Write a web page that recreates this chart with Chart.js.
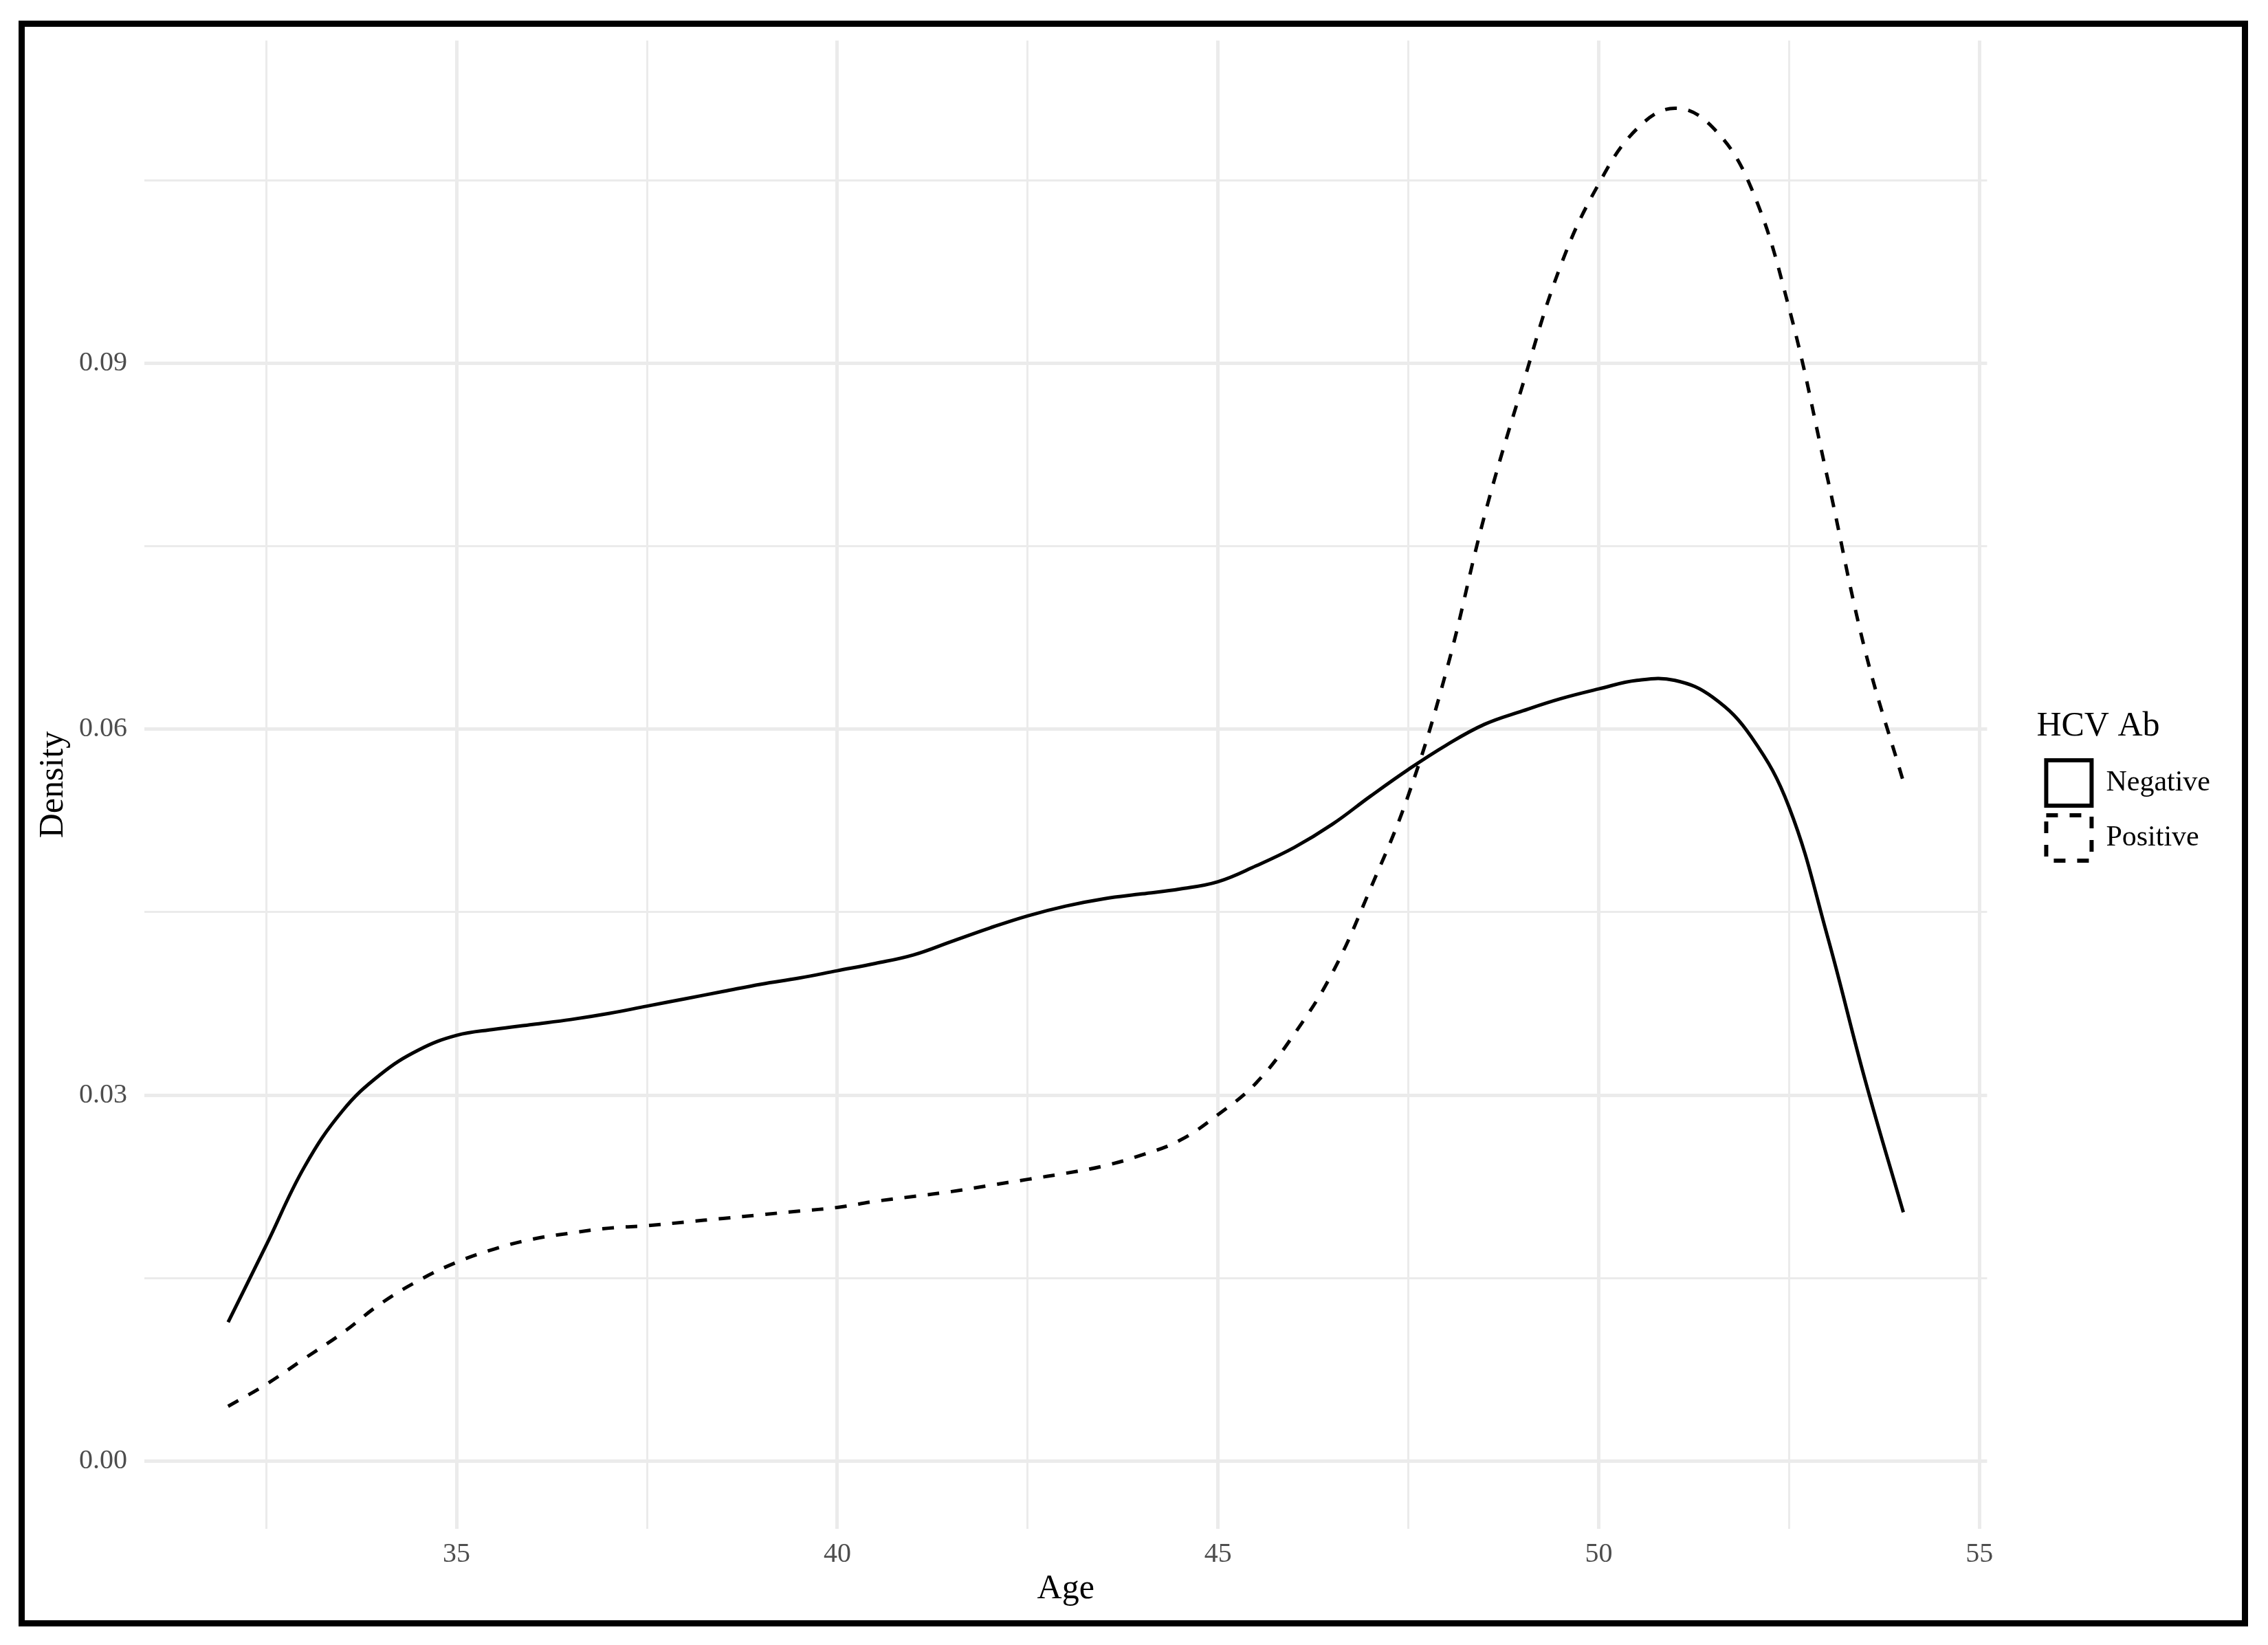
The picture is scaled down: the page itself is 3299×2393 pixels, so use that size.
<!DOCTYPE html>
<html>
<head>
<meta charset="utf-8">
<script src="https://cdn.jsdelivr.net/npm/chart.js@4"></script>
<style>
  body { margin: 0; background: #fff; }
  #frame {
    position: absolute;
    left: 27px;
    top: 30px;
    border: 9px solid #000;
    width: 3225px;
    height: 2318px;
  }
  canvas { display: block; }
</style>
</head>
<body>
<div id="frame"><canvas id="chart" width="3225" height="2318"></canvas></div>
<script>
// ages the density curves were read at
const ages = [32, 32.5, 33, 33.5, 34, 34.5, 35, 35.5, 36, 36.5, 37, 37.5, 38, 38.5, 39, 39.5,
  40, 40.5, 41, 41.5, 42, 42.5, 43, 43.5, 44, 44.5, 45, 45.5, 46, 46.5, 47, 47.5,
  48, 48.5, 49, 49.5, 50, 50.5, 51, 51.5, 52, 52.5, 53, 53.5, 54];

const negativeDensity = [0.0114, 0.0177, 0.0241, 0.0287, 0.0317, 0.0337, 0.0349, 0.0354, 0.0358, 0.0362,
  0.0367, 0.0373, 0.0379, 0.0385, 0.0391, 0.0396, 0.0402, 0.0408, 0.0415, 0.0426,
  0.0437, 0.0447, 0.0455, 0.0461, 0.0465, 0.0469, 0.0475, 0.0488, 0.0503, 0.0522,
  0.0545, 0.0567, 0.0587, 0.0604, 0.0615, 0.0625, 0.0633, 0.0640, 0.0640, 0.0626,
  0.0594, 0.0536, 0.0431, 0.0312, 0.0204];

const positiveDensity = [0.0045, 0.0063, 0.0084, 0.0105, 0.0129, 0.0148, 0.0163, 0.0174, 0.0182, 0.0187,
  0.0191, 0.0193, 0.0196, 0.0199, 0.0202, 0.0205, 0.0208, 0.0213, 0.0217, 0.0221,
  0.0226, 0.0231, 0.0236, 0.0242, 0.0251, 0.0263, 0.0284, 0.0310, 0.0350, 0.0400,
  0.0469, 0.0546, 0.0648, 0.0775, 0.0882, 0.0980, 0.1047, 0.1092, 0.1109, 0.1093,
  0.1044, 0.0945, 0.0807, 0.0664, 0.0557];

const groups = ['Negative', 'Positive'];

const xMajor = [35, 40, 45, 50, 55];
const xMinor = [32.5, 37.5, 42.5, 47.5, 52.5];
const xTickLabels = ['35', '40', '45', '50', '55'];

const yMajor = [0, 0.03, 0.06, 0.09];
const yMinor = [0.015, 0.045, 0.075, 0.105];
const yTickLabels = ['0.00', '0.03', '0.06', '0.09'];

// ggplot style 5% expansion of the data range
const allY = negativeDensity.concat(positiveDensity, [0]);
const yLow = Math.min(...allY);
const yHigh = Math.max(...allY);
const xLow = Math.min(...ages);
const xHigh = Math.max(...ages);
const yPad = (yHigh - yLow) * 0.05;
const xPad = (xHigh - xLow) * 0.05;

function toPoints(values) {
  return ages.map((age, i) => ({ x: age, y: values[i] }));
}

function gridTicks(major, minor) {
  return major.concat(minor).sort((a, b) => a - b).map(v => ({ value: v }));
}

// keep the panel where it is, whatever the edge labels want
function noEdgePadding(axis) {
  axis.paddingTop = 0;
  axis.paddingBottom = 0;
  axis.paddingLeft = 0;
  axis.paddingRight = 0;
}

const serif = 'Liberation Serif';
const gridColor = '#EBEBEB';

new Chart(document.getElementById('chart'), {
  type: 'line',
  data: {
    datasets: [
      {
        label: groups[0],
        data: toPoints(negativeDensity),
        borderColor: '#000',
        backgroundColor: '#fff',
        borderWidth: 5,
        pointRadius: 0,
        tension: 0.4
      },
      {
        label: groups[1],
        data: toPoints(positiveDensity),
        borderColor: '#000',
        backgroundColor: '#fff',
        borderWidth: 5,
        borderDash: [17, 17],
        pointRadius: 0,
        tension: 0.4
      }
    ]
  },
  options: {
    responsive: false,
    animation: false,
    devicePixelRatio: 1,
    layout: { padding: { top: 20, left: 0, right: 36, bottom: 0 } },
    plugins: {
      tooltip: { enabled: false },
      legend: {
        position: 'right',
        align: 'center',
        fullSize: false,
        title: {
          display: true,
          text: 'HCV Ab',
          color: '#000',
          position: 'start',
          font: { family: serif, size: 50 },
          padding: { top: 15, bottom: 0 }
        },
        labels: {
          color: '#000',
          font: { family: serif, size: 42 },
          boxWidth: 66,
          boxHeight: 66,
          padding: 14,
          generateLabels: chart => Chart.defaults.plugins.legend.labels.generateLabels(chart)
            .map(item => ({ ...item, lineWidth: 6, fillStyle: '#fff' }))
        }
      }
    },
    scales: {
      x: {
        type: 'linear',
        min: xLow - xPad,
        max: xHigh + xPad,
        afterBuildTicks: axis => { axis.ticks = gridTicks(xMajor, xMinor); },
        afterFit: axis => { axis.height = 133; noEdgePadding(axis); },
        border: { display: false },
        grid: {
          color: gridColor,
          drawTicks: false,
          lineWidth: ctx => xMajor.includes(ctx.tick.value) ? 5 : 3
        },
        ticks: {
          autoSkip: false,
          maxRotation: 0,
          padding: 13,
          color: '#4D4D4D',
          font: { family: serif, size: 40 },
          callback: value => {
            const i = xMajor.indexOf(value);
            return i >= 0 ? xTickLabels[i] : '';
          }
        },
        title: {
          display: true,
          text: 'Age',
          color: '#000',
          font: { family: serif, size: 50 },
          padding: { top: 0, bottom: 15 }
        }
      },
      y: {
        type: 'linear',
        min: yLow - yPad,
        max: yHigh + yPad,
        afterBuildTicks: axis => { axis.ticks = gridTicks(yMajor, yMinor); },
        afterFit: axis => { axis.width = 174; noEdgePadding(axis); },
        border: { display: false },
        grid: {
          color: gridColor,
          drawTicks: false,
          lineWidth: ctx => yMajor.includes(ctx.tick.value) ? 5 : 3
        },
        ticks: {
          padding: 25,
          color: '#4D4D4D',
          font: { family: serif, size: 40 },
          callback: value => {
            const i = yMajor.indexOf(value);
            return i >= 0 ? yTickLabels[i] : '';
          }
        },
        title: {
          display: true,
          text: 'Density',
          color: '#000',
          font: { family: serif, size: 50 },
          padding: { top: 12, bottom: 0 }
        }
      },
      // empty axis that only leaves the gap between panel and legend
      gap: {
        type: 'linear',
        position: 'right',
        display: true,
        border: { display: false },
        grid: { display: false, drawTicks: false },
        ticks: { display: false },
        afterFit: axis => { axis.width = 72; noEdgePadding(axis); }
      }
    }
  }
});
</script>
</body>
</html>
